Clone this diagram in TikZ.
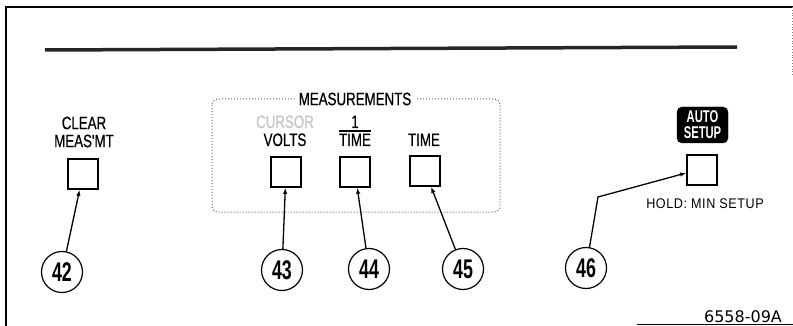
\documentclass[tikz,border=0pt]{standalone}
\usepackage{fontspec}
\setmainfont{Liberation Sans}
\newfontfamily\panelfont[FakeStretch=0.74, FakeBold=0.6]{Liberation Sans}
\newfontfamily\holdfont[FakeStretch=0.9, LetterSpace=4]{Liberation Sans}
\newfontfamily\numfont[FakeStretch=0.66]{Liberation Sans}
\newfontfamily\codefont{DejaVu Sans}
\usetikzlibrary{arrows.meta}
\newcommand{\barover}[1]{\vbox{\hrule height 1.3pt\kern 2pt\hbox{#1}}}

\begin{document}
\begin{tikzpicture}[x=1pt, y=-1pt, >={Latex[length=6pt,width=4.5pt]}]
\tikzstyle{button}=[draw, rectangle, line width=1.8pt, minimum size=30pt, inner sep=0pt]
\tikzstyle{callout}=[draw, circle, line width=1.2pt, minimum size=41pt, inner sep=0pt, font=\numfont\bfseries\fontsize{27}{27}\selectfont]
\tikzstyle{caption}=[inner sep=0pt, align=center, font=\panelfont\fontsize{18}{18}\selectfont]
\tikzstyle{pointer}=[->, line width=1.3pt]
\useasboundingbox (0,0) rectangle (793,326);

\draw[line width=1.2pt] (6,326) -- (6,7) -- (793,7);
\draw[gray, dotted, line width=0.8pt] (792,7) -- (792,75);
\draw[line width=0.8pt] (637,324.5) -- (793,324.5);
\draw[black!85, line width=3.5pt] (45,50) -- (737,47);

\draw[black!60, dotted, line width=1pt, rounded corners=6pt] (212,99) rectangle (500,212);
\node[caption, fill=white, inner xsep=4pt, inner ysep=2pt] (meas) at (355,99) {MEASUREMENTS};

\node[caption] (clear) at (84,132) {CLEAR\\MEAS'MT};
\node[caption, anchor=base, gray!45] (cursor) at (285,128) {CURSOR};
\node[caption, anchor=base] (volts) at (285,146) {VOLTS};
\node[caption, anchor=base] (one) at (355,128) {1};
\node[caption, anchor=base] (inv) at (355,146) {\barover{TIME}};
\node[caption, anchor=base] (time) at (424,146) {TIME};

\node[draw, fill=black, rounded corners=5pt, minimum width=51pt, minimum height=36pt, inner sep=0pt, align=center, text=white, font=\numfont\bfseries\fontsize{17}{16}\selectfont] (auto) at (702.5,125) {AUTO\\SETUP};
\node[anchor=base, inner sep=0pt, font=\holdfont\fontsize{14}{16}\selectfont] (hold) at (705,208) {HOLD: MIN SETUP};

\node[button] (b42) at (83,174) {};
\node[button] (b43) at (286,172) {};
\node[button] (b44) at (355,172) {};
\node[button] (b45) at (425,171) {};
\node[button] (b46) at (702,170) {};

\node[callout] (c42) at (62,272) {42};
\node[callout] (c43) at (282,270) {43};
\node[callout] (c44) at (369,269) {44};
\node[callout] (c45) at (463,269) {45};
\node[callout] (c46) at (586,268) {46};
\coordinate (k46) at (598,197);

\path
(c42) edge[pointer] (b42)
(c43) edge[pointer] (b43)
(c44) edge[pointer] (b44)
(c45) edge[pointer] (b45);
\draw[pointer] (c46) -- (k46) -- ([yshift=-3pt]b46.west);

\node[anchor=base, inner sep=0pt, font=\codefont\fontsize{16}{18}\selectfont] (code) at (743,322) {6558-09A};
\end{tikzpicture}
\end{document}
